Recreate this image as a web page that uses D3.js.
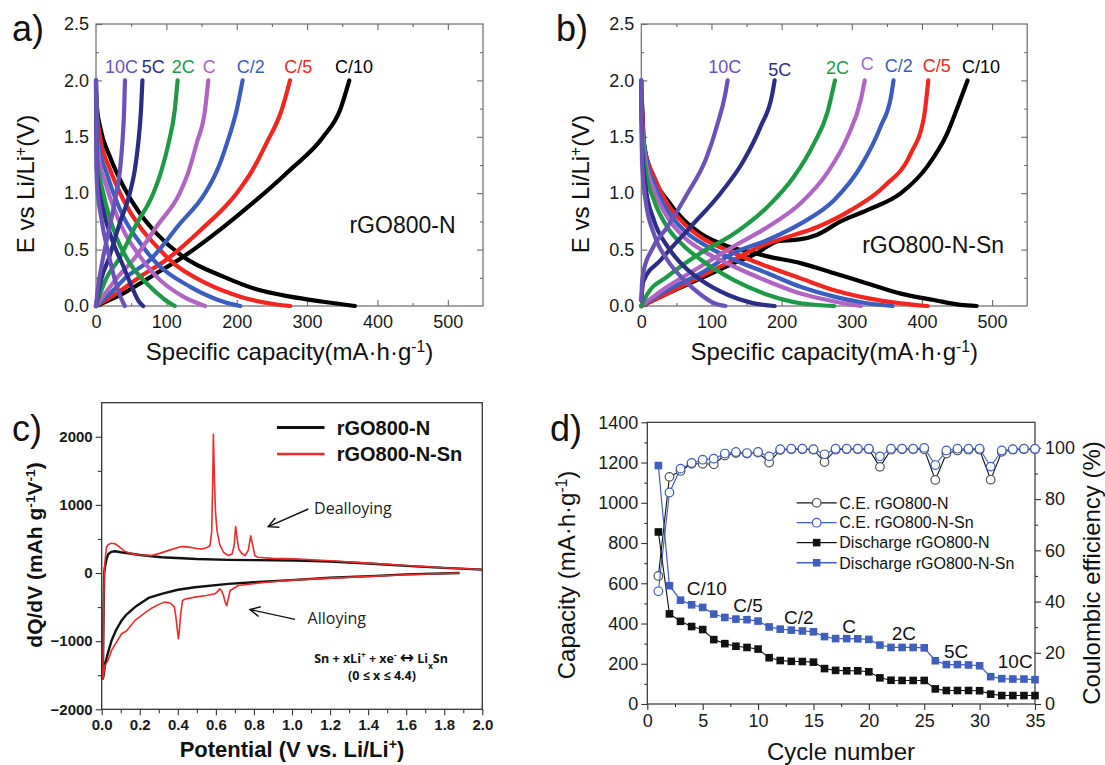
<!DOCTYPE html>
<html>
<head>
<meta charset="utf-8">
<script src="https://cdn.jsdelivr.net/npm/d3@7"></script>
<style>
  body { margin: 0; background: #fff; }
  svg { display: block; }
</style>
</head>
<body>
<script>
// ---------- data ----------
var rates = ["10C", "5C", "2C", "C", "C/2", "C/5", "C/10"];
var rateColors = ["#6b52b8", "#2c2d87", "#1e9a47", "#b064c4", "#3b5dbf", "#f2261e", "#000000"];

// panel a, rGO800-N: [capacity mAh/g, E V]
var aCharge = [
  [[0,0],[2,0.12],[9.5,0.41],[20,0.72],[29,1.0],[34,1.2],[37.4,1.44],[40,1.74],[41.2,2.0]],
  [[0,0],[3,0.11],[8,0.25],[17.5,0.41],[33,0.72],[48,1.0],[55,1.2],[60,1.44],[64,1.74],[66,2.0]],
  [[0,0],[6,0.11],[15,0.25],[32,0.41],[57,0.72],[81.5,1.0],[93,1.2],[103,1.44],[112,1.74],[116,2.0]],
  [[0,0],[13,0.11],[30,0.25],[53,0.41],[88,0.72],[119,1.0],[132,1.2],[143,1.44],[155,1.74],[159.6,2.0]],
  [[0,0],[20,0.11],[42,0.25],[77,0.41],[118,0.72],[155,1.0],[172,1.2],[186,1.44],[200,1.74],[208.4,2.0]],
  [[0,0],[29,0.11],[62.5,0.26],[100,0.41],[150,0.68],[200,1.0],[222,1.2],[242,1.44],[264,1.74],[275.7,2.0]],
  [[0,0],[38.8,0.112],[86,0.29],[124,0.437],[181,0.70],[228,0.94],[275.7,1.206],[323,1.50],[347,1.74],[360,2.0]]
];
var aDischarge = [
  [[0,2.0],[0.5,1.6],[1,1.12],[8,0.76],[17.5,0.47],[27,0.23],[35,0.08],[41,0]],
  [[0,2.0],[0.5,1.6],[1,1.2],[10.4,0.85],[24.6,0.56],[39,0.35],[53,0.14],[61,0.04],[67,0]],
  [[0,2.0],[0.5,1.6],[1.9,1.29],[10.4,1.0],[29,0.61],[48,0.38],[77,0.17],[97,0.06],[112,0]],
  [[0,1.95],[1,1.6],[3.3,1.35],[15,1.06],[39,0.67],[62.5,0.44],[86,0.26],[124,0.083],[155,0]],
  [[0,1.9],[1,1.65],[3.3,1.44],[15,1.18],[39,0.79],[62.5,0.56],[86,0.38],[134,0.17],[181,0.038],[205,0]],
  [[0,1.85],[1.5,1.7],[5.7,1.5],[20,1.21],[39,0.94],[62.5,0.7],[86,0.53],[110,0.38],[157,0.2],[205,0.083],[252,0.018],[276,0]],
  [[0,1.9],[1.5,1.75],[5.7,1.59],[20,1.32],[39,1.06],[62.5,0.82],[86,0.644],[124,0.437],[181,0.26],[228,0.148],[276,0.083],[323,0.038],[368,0]]
];
var aLabelCap = [12.8, 65, 107.6, 151.6, 200, 267.6, 339.7];
var aLabelV = [2.063, 2.063, 2.063, 2.063, 2.063, 2.063, 2.063];

// panel b, rGO800-N-Sn
var bCharge = [
  [[0,0.05],[1,0.2],[3,0.3],[15,0.5],[37,0.7],[66,1.0],[92,1.3],[108,1.6],[120,1.89],[123,2.0]],
  [[0,0.05],[3,0.22],[28,0.41],[70,0.7],[113,1.0],[146,1.29],[170,1.59],[187,1.89],[190,2.0]],
  [[0,0],[8,0.1],[37,0.26],[84.6,0.47],[132,0.64],[180,0.88],[218,1.15],[246,1.44],[265,1.71],[276,2.0]],
  [[0,0],[37,0.17],[84.6,0.35],[132,0.53],[180,0.7],[227,0.91],[265,1.18],[294,1.5],[313,1.83],[318.5,2.0]],
  [[0,0],[37,0.14],[84.6,0.29],[132,0.47],[180,0.585],[227,0.73],[275,0.94],[313,1.24],[341,1.59],[356,1.86],[359.5,2.0]],
  [[0,0],[37,0.11],[84.6,0.26],[132,0.41],[170,0.53],[203,0.6],[251,0.7],[298.6,0.85],[346,1.06],[384,1.35],[403,1.68],[409,2.0]],
  [[0,0],[37,0.11],[84.6,0.245],[132,0.38],[165,0.47],[180,0.53],[195,0.575],[225,0.59],[250,0.63],[284,0.75],[322,0.85],[370,1.0],[408,1.24],[436,1.53],[453,1.8],[465,2.0]]
];
var bDischarge = [
  [[0,2.0],[0.5,1.6],[1,1.29],[6,0.94],[18,0.64],[37,0.41],[61,0.23],[85,0.1],[104,0.024],[120,0]],
  [[0,2.0],[0.5,1.7],[1,1.41],[6,1.06],[18,0.76],[37,0.53],[61,0.35],[85,0.23],[123,0.1],[156,0.03],[190,0]],
  [[0,2.0],[0.5,1.75],[1,1.53],[6,1.21],[18,0.94],[37,0.7],[61,0.53],[85,0.41],[132,0.23],[180,0.1],[227,0.024],[275,0]],
  [[0,1.95],[1,1.59],[6,1.29],[18,1.03],[37,0.79],[61,0.61],[85,0.5],[132,0.35],[180,0.22],[227,0.11],[275,0.04],[313,0]],
  [[0,1.9],[1,1.65],[6,1.35],[18,1.09],[37,0.85],[61,0.67],[85,0.56],[132,0.41],[180,0.29],[227,0.17],[275,0.083],[322,0.024],[358,0]],
  [[0,1.85],[1,1.74],[3.8,1.41],[18,1.15],[37,0.91],[61,0.73],[85,0.61],[132,0.47],[180,0.35],[227,0.245],[275,0.14],[322,0.07],[370,0.024],[408,0]],
  [[0,1.9],[1,1.8],[3.8,1.44],[13,1.21],[37,0.94],[61,0.76],[85,0.64],[123,0.53],[161,0.47],[180,0.44],[227,0.38],[275,0.29],[322,0.2],[370,0.11],[417,0.053],[455,0.01],[478,0]]
];
var bLabelCap = [95.5, 181.1, 263.3, 312.8, 347, 401.2, 457.2];
var bLabelV = [2.063, 2.04, 2.055, 2.09, 2.075, 2.075, 2.063];

// panel c, dQ/dV: [potential V, dQ/dV]
var cBlackRed = [[1.88,0],[1.6,-20],[1.44,-42],[1.2,-70],[1.016,-100],[0.8,-135],[0.665,-159],[0.49,-208],[0.4,-245],[0.315,-305],[0.25,-360],[0.175,-500],[0.13,-610],[0.105,-696],[0.075,-840],[0.052,-989],[0.03,-1200],[0.017,-1350],[0.01,-1500],[0.006,-1550]];
var cBlackOx = [[0.006,-1550],[0.01,-500],[0.013,0],[0.017,85],[0.025,200],[0.035,280],[0.05,310],[0.07,320],[0.1,305],[0.14,290],[0.2,265],[0.315,232],[0.5,205],[0.665,193],[0.8,190],[1.016,183],[1.2,170],[1.4,140],[1.6,105],[1.8,75],[2.0,50]];
var cRedRed = [[1.88,0],[1.6,-25],[1.2,-75],[1.016,-100],[0.85,-140],[0.718,-183],[0.69,-230],[0.675,-256],[0.665,-380],[0.657,-480],[0.648,-420],[0.64,-330],[0.63,-260],[0.62,-232],[0.61,-270],[0.595,-305],[0.55,-330],[0.49,-354],[0.44,-380],[0.425,-403],[0.415,-600],[0.408,-850],[0.403,-965],[0.398,-850],[0.39,-650],[0.382,-500],[0.36,-440],[0.33,-427],[0.3,-460],[0.26,-520],[0.22,-600],[0.175,-696],[0.13,-850],[0.105,-891],[0.07,-1050],[0.052,-1136],[0.03,-1300],[0.017,-1355],[0.006,-1560]];
var cRedOx = [[0.006,-1560],[0.01,-600],[0.013,0],[0.02,250],[0.025,378],[0.035,420],[0.05,437],[0.07,430],[0.09,390],[0.12,320],[0.16,281],[0.2,265],[0.26,256],[0.3,285],[0.36,340],[0.42,388],[0.46,380],[0.5,360],[0.525,354],[0.55,370],[0.569,400],[0.578,600],[0.583,1300],[0.587,2040],[0.592,1400],[0.598,900],[0.606,623],[0.62,420],[0.64,305],[0.665,256],[0.685,280],[0.696,400],[0.704,681],[0.712,500],[0.72,354],[0.735,290],[0.753,256],[0.77,330],[0.783,545],[0.792,430],[0.805,256],[0.82,232],[0.9,215],[1.016,208],[1.2,180],[1.4,145],[1.6,110],[1.8,78],[2.0,52]];

// panel d, cycling
var cycles = d3.range(1, 36);
var dischargeN = [855,448,411,385,370,320,300,287,281,273,230,216,212,211,208,176,167,165,165,160,130,118,117,117,117,75,67,67,67,66,49,42,42,42,42];
var dischargeSn = [1185,588,516,493,480,447,430,422,419,412,383,372,367,363,359,335,325,325,324,321,293,281,281,281,279,215,196,196,194,190,136,126,124,124,121];
var ceN = [50,88.7,91,93.8,93.8,93.6,97,98,97.8,98.2,94.3,99.2,99.5,99.5,99.3,94.5,99.3,99.5,99.5,99.5,92.6,99.3,99.5,99.5,99.5,87.5,97.8,99,99.3,99.3,87.6,98.5,99.3,99.5,99.5];
var ceSn = [44,82.6,91.9,94.1,95.4,95.8,97.8,98.4,98,98.4,96.7,99.5,99.7,99.7,99.5,97.5,99.7,99.7,99.7,99.7,96.7,99.7,99.7,99.7,100,93.3,99,99.7,99.7,99.7,92.7,99,99.5,99.7,99.7];
var dRateLabels = ["C/10", "C/5", "C/2", "C", "2C", "5C", "10C"];
var dRateCycle = [3.56, 7.76, 12.34, 17.6, 22.06, 26.79, 31.64];
var dRateCap = [542, 459, 396, 351, 318, 227, 177];
var dLegend = ["C.E. rGO800-N", "C.E. rGO800-N-Sn", "Discharge rGO800-N", "Discharge rGO800-N-Sn"];

// ---------- drawing ----------
var FONT = "'Liberation Sans', Arial, Helvetica, sans-serif";
var svg = d3.select("body").append("svg")
  .attr("width", 1105).attr("height", 765)
  .style("font-family", FONT);
svg.append("rect").attr("width", 1105).attr("height", 765).attr("fill", "#fff");

// text with super/subscripts: parts = [[text, shift, size]] shift 1 = sup, -1 = sub
function rich(t, parts) {
  parts.forEach(function(p) {
    var s = t.append("tspan").text(p[0]);
    if (p[1] === 1) s.attr("baseline-shift", "super").attr("font-size", "65%");
    if (p[1] === -1) s.attr("baseline-shift", "sub").attr("font-size", "65%");
    if (p[2]) s.attr("font-size", p[2]).attr("font-family", "'DejaVu Sans', sans-serif");
  });
  return t;
}

function styleAxis(g, size, color, weight) {
  g.select(".domain").remove();
  g.selectAll("line").attr("stroke", color).attr("stroke-width", 1.1);
  g.selectAll("text").attr("font-size", size).attr("font-family", FONT)
    .attr("fill", "#1a1a1a").attr("font-weight", weight || null);
}

function panelLetter(txt, x, y) {
  svg.append("text").attr("x", x).attr("y", y).attr("font-size", 36).attr("fill", "#111").text(txt);
}

// ---- panels a and b ----
function capPanel(x0, x1, charge, discharge, labCap, labV, sample, sampleEnd, sampleV, titleX) {
  var x = d3.scaleLinear().domain([0, 550]).range([x0, x1]);
  var y = d3.scaleLinear().domain([0, 2.5]).range([306, 24]);
  var g = svg.append("g");
  var fc = "#6a6a6a";

  g.append("g").attr("transform", "translate(0,306)")
    .call(d3.axisBottom(x).tickValues([0, 100, 200, 300, 400, 500]).tickSize(-6).tickPadding(9))
    .call(styleAxis, 18, fc);
  g.append("g").attr("transform", "translate(0,306)")
    .call(d3.axisBottom(x).tickValues([50, 150, 250, 350, 450]).tickSize(-3).tickFormat(""))
    .call(styleAxis, 18, fc);
  g.append("g").attr("transform", "translate(0,24)")
    .call(d3.axisTop(x).tickValues([100, 200, 300, 400, 500]).tickSize(-6).tickFormat(""))
    .call(styleAxis, 18, fc);
  g.append("g").attr("transform", "translate(0,24)")
    .call(d3.axisTop(x).tickValues([50, 150, 250, 350, 450]).tickSize(-3).tickFormat(""))
    .call(styleAxis, 18, fc);
  g.append("g").attr("transform", "translate(" + x0 + ",0)")
    .call(d3.axisLeft(y).tickValues([0, 0.5, 1, 1.5, 2, 2.5]).tickFormat(d3.format(".1f")).tickSize(-6).tickPadding(7))
    .call(styleAxis, 18, fc);
  g.append("g").attr("transform", "translate(" + x0 + ",0)")
    .call(d3.axisLeft(y).tickValues([0.25, 0.75, 1.25, 1.75, 2.25]).tickSize(-3).tickFormat(""))
    .call(styleAxis, 18, fc);
  g.append("g").attr("transform", "translate(" + x1 + ",0)")
    .call(d3.axisRight(y).tickValues([0.5, 1, 1.5, 2]).tickSize(-6).tickFormat(""))
    .call(styleAxis, 18, fc);
  g.append("g").attr("transform", "translate(" + x1 + ",0)")
    .call(d3.axisRight(y).tickValues([0.25, 0.75, 1.25, 1.75, 2.25]).tickSize(-3).tickFormat(""))
    .call(styleAxis, 18, fc);
  g.append("rect").attr("x", x0).attr("y", 24).attr("width", x1 - x0).attr("height", 282)
    .attr("fill", "none").attr("stroke", fc).attr("stroke-width", 1.2);

  var line = d3.line().x(function(d) { return x(d[0]); }).y(function(d) { return y(d[1]); })
    .curve(d3.curveMonotoneX);
  for (var i = rates.length - 1; i >= 0; i--) {
    [charge[i], discharge[i]].forEach(function(pts) {
      g.append("path").attr("d", line(pts)).attr("fill", "none")
        .attr("stroke", rateColors[i]).attr("stroke-width", 4.2).attr("stroke-linecap", "round");
    });
  }
  rates.forEach(function(r, i) {
    g.append("text").attr("x", x(labCap[i])).attr("y", y(labV[i]))
      .attr("font-size", 18).attr("fill", rateColors[i]).text(r);
  });
  g.append("text").attr("x", x(sampleEnd)).attr("y", y(sampleV))
    .attr("text-anchor", "end").attr("font-size", 23).attr("fill", "#111").text(sample);

  rich(g.append("text").attr("x", (x0 + x1) / 2).attr("y", 360).attr("text-anchor", "middle")
    .attr("font-size", 24).attr("fill", "#111"),
    [["Specific capacity(mA\u00b7h\u00b7g", 0], ["-1", 1], [")", 0]]);
  rich(g.append("text").attr("transform", "translate(" + titleX + ",184) rotate(-90)")
    .attr("text-anchor", "middle").attr("font-size", 24).attr("fill", "#111"),
    [["E vs Li/Li", 0], ["+", 1], ["(V)", 0]]);
}

capPanel(96, 483, aCharge, aDischarge, aLabelCap, aLabelV, "rGO800-N", 511, 0.645, 34);
capPanel(641.3, 1027.2, bCharge, bDischarge, bLabelCap, bLabelV, "rGO800-N-Sn", 517, 0.467, 589);
panelLetter("a)", 12, 41);
panelLetter("b)", 556, 41);

// ---- panel c ----
(function() {
  var x = d3.scaleLinear().domain([0, 2]).range([101.7, 482.3]);
  var y = d3.scaleLinear().domain([-2000, 2500]).range([709.3, 402.7]);
  var g = svg.append("g");
  var ac = "#333";

  g.append("g").attr("transform", "translate(0,709.3)")
    .call(d3.axisBottom(x).tickValues(d3.range(0, 2.01, 0.2)).tickFormat(d3.format(".1f")).tickSize(6).tickPadding(4))
    .call(styleAxis, 15, ac, "bold");
  g.append("g").attr("transform", "translate(0,709.3)")
    .call(d3.axisBottom(x).tickValues(d3.range(0.1, 2, 0.2)).tickSize(4).tickFormat(""))
    .call(styleAxis, 15, ac);
  g.append("g").attr("transform", "translate(101.7,0)")
    .call(d3.axisLeft(y).tickValues([-2000, -1000, 0, 1000, 2000]).tickFormat(d3.format("d")).tickSize(6).tickPadding(3))
    .call(styleAxis, 15, ac, "bold");
  g.append("g").attr("transform", "translate(101.7,0)")
    .call(d3.axisLeft(y).tickValues([-1500, -500, 500, 1500]).tickSize(4).tickFormat(""))
    .call(styleAxis, 15, ac);
  g.append("rect").attr("x", 101.7).attr("y", 402.7).attr("width", 380.6).attr("height", 306.6)
    .attr("fill", "none").attr("stroke", ac).attr("stroke-width", 1.3);

  var line = d3.line().x(function(d) { return x(d[0]); }).y(function(d) { return y(d[1]); });
  g.append("path").attr("d", line(cBlackRed.concat(cBlackOx))).attr("fill", "none")
    .attr("stroke", "#111").attr("stroke-width", 2.4).attr("stroke-linejoin", "round");
  g.append("path").attr("d", line(cRedRed.concat(cRedOx))).attr("fill", "none")
    .attr("stroke", "#ee2a2a").attr("stroke-width", 1.6).attr("stroke-linejoin", "round");

  // legend
  [["rGO800-N", "#111", 3, 2136], ["rGO800-N-Sn", "#ee2a2a", 2.6, 1746]].forEach(function(l) {
    g.append("line").attr("x1", x(0.921)).attr("x2", x(1.171)).attr("y1", y(l[3])).attr("y2", y(l[3]))
      .attr("stroke", l[1]).attr("stroke-width", l[2]);
    g.append("text").attr("x", x(1.235)).attr("y", y(l[3])).attr("dy", "0.36em")
      .attr("font-size", 20).attr("font-weight", "bold").attr("fill", "#111").text(l[0]);
  });

  // annotations
  var defs = svg.append("defs");
  defs.append("marker").attr("id", "openHead").attr("viewBox", "-12 -7 14 14")
    .attr("markerWidth", 14).attr("markerHeight", 14).attr("markerUnits", "userSpaceOnUse")
    .attr("refX", 0).attr("refY", 0).attr("orient", "auto")
    .append("path").attr("d", "M-10,-5 L0,0 L-10,5").attr("fill", "none")
    .attr("stroke", "#111").attr("stroke-width", 1.4);
  g.append("line").attr("x1", x(1.086)).attr("y1", y(940)).attr("x2", x(0.875)).attr("y2", y(681))
    .attr("stroke", "#111").attr("stroke-width", 1.4).attr("marker-end", "url(#openHead)");
  g.append("line").attr("x1", x(1.016)).attr("y1", y(-681)).attr("x2", x(0.779)).attr("y2", y(-535))
    .attr("stroke", "#111").attr("stroke-width", 1.4).attr("marker-end", "url(#openHead)");
  g.append("text").attr("x", x(1.116)).attr("y", y(867)).attr("font-family", "'Open Sans', sans-serif")
    .attr("font-size", 16).attr("fill", "#222").text("Dealloying");
  g.append("text").attr("x", x(1.082)).attr("y", y(-744)).attr("font-family", "'Open Sans', sans-serif")
    .attr("font-size", 16).attr("fill", "#222").text("Alloying");
  rich(g.append("text").attr("x", x(1.468)).attr("y", y(-1321)).attr("text-anchor", "middle")
    .attr("font-family", "'Open Sans', sans-serif").attr("font-size", 12.5).attr("font-weight", "bold").attr("fill", "#111"),
    [["Sn + xLi", 0], ["+", 1], [" + xe", 0], ["-", 1], [" ", 0], ["\u2194", 0, 17], [" Li", 0], ["x", -1], ["Sn", 0]]);
  g.append("text").attr("x", x(1.473)).attr("y", y(-1575)).attr("text-anchor", "middle")
    .attr("font-family", "'Open Sans', sans-serif").attr("font-size", 12.5).attr("font-weight", "bold")
    .attr("fill", "#111").text("(0 \u2264 x \u2264 4.4)");

  rich(g.append("text").attr("x", 292).attr("y", 757).attr("text-anchor", "middle")
    .attr("font-size", 22).attr("font-weight", "bold").attr("fill", "#111"),
    [["Potential (V vs. Li/Li", 0], ["+", 1], [")", 0]]);
  rich(g.append("text").attr("transform", "translate(42,555) rotate(-90)").attr("text-anchor", "middle")
    .attr("font-size", 21).attr("font-weight", "bold").attr("fill", "#111"),
    [["dQ/dV (mAh g", 0], ["-1", 1], ["V", 0], ["-1", 1], [")", 0]]);
})();
panelLetter("c)", 12, 441);

// ---- panel d ----
(function() {
  var x = d3.scaleLinear().domain([0, 35]).range([647.3, 1035]);
  var yL = d3.scaleLinear().domain([0, 1400]).range([704, 422.3]);
  var yR = d3.scaleLinear().domain([0, 110]).range([704, 422.3]);
  var g = svg.append("g");
  var ac = "#333";

  g.append("g").attr("transform", "translate(0,704)")
    .call(d3.axisBottom(x).tickValues(d3.range(0, 36, 5)).tickSize(6).tickPadding(4))
    .call(styleAxis, 18, ac);
  g.append("g").attr("transform", "translate(0,704)")
    .call(d3.axisBottom(x).tickValues(d3.range(2.5, 35, 5)).tickSize(3).tickFormat(""))
    .call(styleAxis, 18, ac);
  g.append("g").attr("transform", "translate(647.3,0)")
    .call(d3.axisLeft(yL).tickValues(d3.range(0, 1401, 200)).tickFormat(d3.format("d")).tickSize(6).tickPadding(3))
    .call(styleAxis, 18, ac);
  g.append("g").attr("transform", "translate(647.3,0)")
    .call(d3.axisLeft(yL).tickValues(d3.range(100, 1400, 200)).tickSize(3).tickFormat(""))
    .call(styleAxis, 18, ac);
  g.append("g").attr("transform", "translate(1035,0)")
    .call(d3.axisRight(yR).tickValues(d3.range(0, 101, 20)).tickSize(6).tickPadding(4))
    .call(styleAxis, 18, ac);
  g.append("g").attr("transform", "translate(1035,0)")
    .call(d3.axisRight(yR).tickValues(d3.range(10, 101, 20)).tickSize(3).tickFormat(""))
    .call(styleAxis, 18, ac);
  g.append("rect").attr("x", 647.3).attr("y", 422.3).attr("width", 387.7).attr("height", 281.7)
    .attr("fill", "none").attr("stroke", ac).attr("stroke-width", 1.2);

  var blue = "#3f5fbf";
  var lineL = d3.line().x(function(d, i) { return x(cycles[i]); }).y(function(d) { return yL(d); });
  var lineR = d3.line().x(function(d, i) { return x(cycles[i]); }).y(function(d) { return yR(d); });

  function circles(vals, stroke) {
    g.selectAll(null).data(vals).enter().append("circle")
      .attr("cx", function(d, i) { return x(cycles[i]); }).attr("cy", function(d) { return yR(d); })
      .attr("r", 4.3).attr("fill", "#fff").attr("stroke", stroke).attr("stroke-width", 1.2);
  }
  function squares(vals, fill) {
    g.selectAll(null).data(vals).enter().append("rect")
      .attr("x", function(d, i) { return x(cycles[i]) - 3.8; }).attr("y", function(d) { return yL(d) - 3.8; })
      .attr("width", 7.6).attr("height", 7.6).attr("fill", fill);
  }
  g.append("path").attr("d", lineR(ceN)).attr("fill", "none").attr("stroke", "#111").attr("stroke-width", 1.1);
  circles(ceN, "#555");
  g.append("path").attr("d", lineR(ceSn)).attr("fill", "none").attr("stroke", blue).attr("stroke-width", 1.1);
  circles(ceSn, blue);
  g.append("path").attr("d", lineL(dischargeN)).attr("fill", "none").attr("stroke", "#111").attr("stroke-width", 1.1);
  squares(dischargeN, "#111");
  g.append("path").attr("d", lineL(dischargeSn)).attr("fill", "none").attr("stroke", blue).attr("stroke-width", 1.2);
  squares(dischargeSn, blue);

  // legend (rows in left-axis units)
  var legY = [1000, 901, 802, 702];
  var legC = ["#111", blue, "#111", blue];
  dLegend.forEach(function(t, i) {
    var yy = yL(legY[i]);
    g.append("line").attr("x1", x(13.49)).attr("x2", x(17.1)).attr("y1", yy).attr("y2", yy)
      .attr("stroke", legC[i]).attr("stroke-width", 1.3);
    if (i < 2) {
      g.append("circle").attr("cx", x(15.29)).attr("cy", yy).attr("r", 4.3).attr("fill", "#fff")
        .attr("stroke", i === 0 ? "#555" : blue).attr("stroke-width", 1.2);
    } else {
      g.append("rect").attr("x", x(15.29) - 3.8).attr("y", yy - 3.8).attr("width", 7.6).attr("height", 7.6)
        .attr("fill", legC[i]);
    }
    g.append("text").attr("x", x(17.33)).attr("y", yy).attr("dy", "0.36em")
      .attr("font-size", 16).attr("fill", "#111").text(t);
  });

  dRateLabels.forEach(function(t, i) {
    g.append("text").attr("x", x(dRateCycle[i])).attr("y", yL(dRateCap[i]))
      .attr("font-size", 19).attr("fill", "#111").text(t);
  });

  g.append("text").attr("x", 841).attr("y", 760).attr("text-anchor", "middle")
    .attr("font-size", 24).attr("fill", "#111").text("Cycle number");
  rich(g.append("text").attr("transform", "translate(575,575) rotate(-90)").attr("text-anchor", "middle")
    .attr("font-size", 24).attr("fill", "#111"),
    [["Capacity (mA\u00b7h\u00b7g", 0], ["-1", 1], [")", 0]]);
  g.append("text").attr("transform", "translate(1100,573) rotate(-90)").attr("text-anchor", "middle")
    .attr("font-size", 24).attr("fill", "#111").text("Coulombic efficiency (%)");
})();
panelLetter("d)", 550, 441);
</script>
</body>
</html>
